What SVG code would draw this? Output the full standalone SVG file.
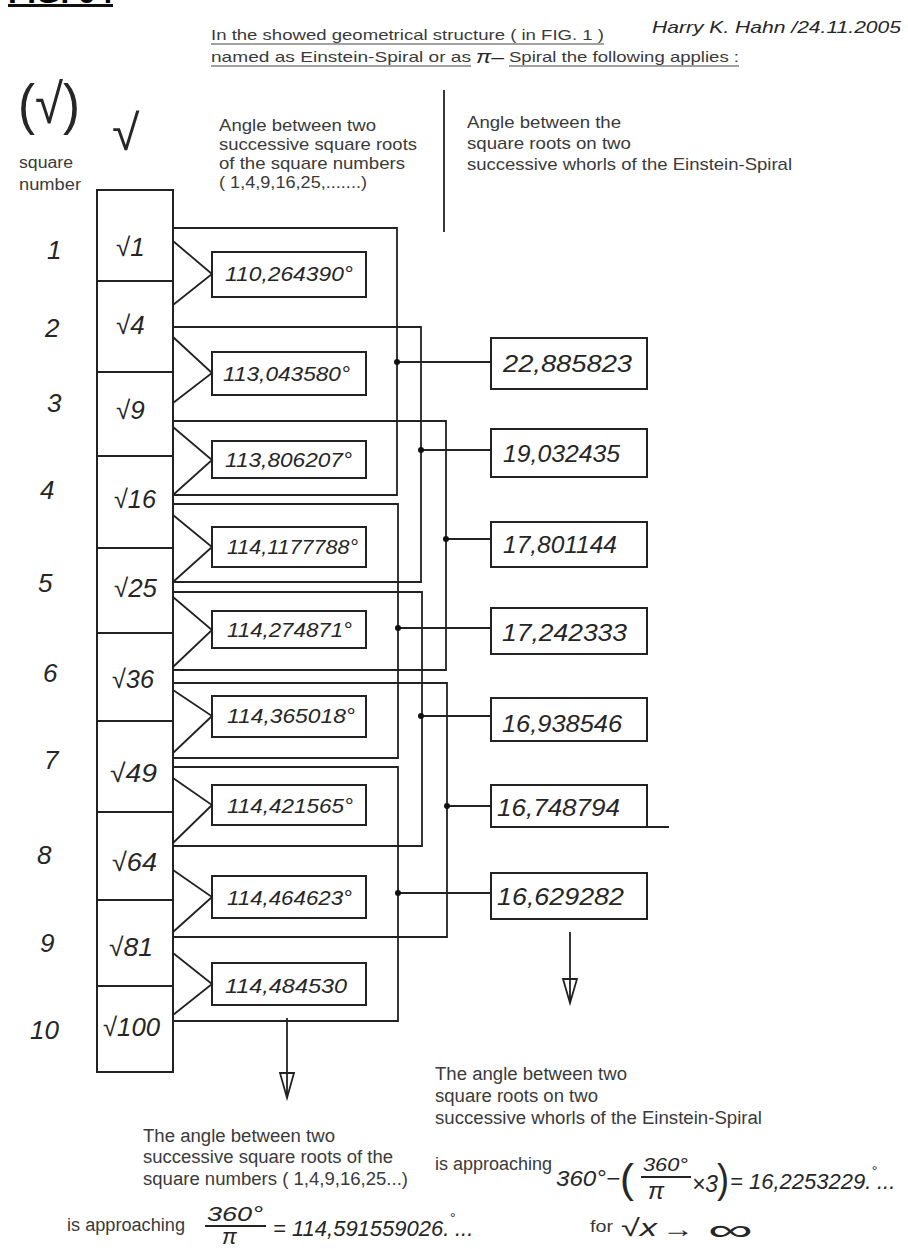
<svg xmlns="http://www.w3.org/2000/svg" width="908" height="1249" viewBox="0 0 908 1249">
<style>
.pr{font-family:"Liberation Sans",Arial,sans-serif;fill:#3a3a3a}
.hw{font-family:"Liberation Sans",Arial,sans-serif;font-style:italic;fill:#262626}
.ln{stroke:#222;stroke-width:1.8;fill:none}
.bx{stroke:#222;stroke-width:2;fill:none}
.ul{stroke:#444;stroke-width:1.2}
.dot{fill:#111}
</style>
<rect width="908" height="1249" fill="#fff"/>

<g id="title">
<text x="8" y="3" style="font-family:'Liberation Sans',Arial,sans-serif;font-weight:bold;font-size:30px" textLength="105" lengthAdjust="spacingAndGlyphs">FIG. 04</text>
<rect x="8" y="4" width="105" height="3" fill="#111"/>
</g>

<g id="header">
<text class="pr" x="211" y="40" font-size="15" textLength="393" lengthAdjust="spacingAndGlyphs">In the showed geometrical structure ( in FIG. 1 )</text>
<line class="ul" x1="211" y1="44" x2="604" y2="44"/>
<text class="pr" x="211" y="62" font-size="15" textLength="260" lengthAdjust="spacingAndGlyphs">named as Einstein-Spiral or as</text>
<line class="ul" x1="211" y1="66" x2="471" y2="66"/>
<text class="hw" x="476" y="63" font-size="19" textLength="28" lengthAdjust="spacingAndGlyphs">π–</text>
<text class="pr" x="509" y="62" font-size="15" textLength="230" lengthAdjust="spacingAndGlyphs">Spiral the following applies :</text>
<line class="ul" x1="509" y1="66" x2="739" y2="66"/>
<text class="hw" x="652" y="33" font-size="17" textLength="249" lengthAdjust="spacingAndGlyphs">Harry K. Hahn /24.11.2005</text>
</g>

<g id="col-headers">
<text class="hw" x="18" y="123" font-size="56" style="font-style:normal" textLength="62" lengthAdjust="spacingAndGlyphs">(√)</text>
<text class="hw" x="112" y="150" font-size="50" style="font-style:normal">√</text>
<text class="pr" x="19" y="168" font-size="16" textLength="54" lengthAdjust="spacingAndGlyphs">square</text>
<text class="pr" x="19" y="190" font-size="16" textLength="62" lengthAdjust="spacingAndGlyphs">number</text>
<text class="pr" x="219" y="131" font-size="17" textLength="157" lengthAdjust="spacingAndGlyphs">Angle between two</text>
<text class="pr" x="219" y="150" font-size="17" textLength="198" lengthAdjust="spacingAndGlyphs">successive square roots</text>
<text class="pr" x="219" y="169" font-size="17" textLength="186" lengthAdjust="spacingAndGlyphs">of the square numbers</text>
<text class="pr" x="219" y="188" font-size="17" textLength="148" lengthAdjust="spacingAndGlyphs">( 1,4,9,16,25,.......)</text>
<line class="ln" x1="444" y1="90" x2="444" y2="232"/>
<text class="pr" x="467" y="128" font-size="17" textLength="154" lengthAdjust="spacingAndGlyphs">Angle between the</text>
<text class="pr" x="467" y="149" font-size="17" textLength="164" lengthAdjust="spacingAndGlyphs">square roots on two</text>
<text class="pr" x="467" y="170" font-size="17" textLength="325" lengthAdjust="spacingAndGlyphs">successive whorls of the Einstein-Spiral</text>
</g>

<g id="row-numbers" class="hw" font-size="26">
<text x="47" y="259">1</text>
<text x="45" y="337">2</text>
<text x="47" y="412">3</text>
<text x="40" y="499">4</text>
<text x="38" y="592">5</text>
<text x="43" y="682">6</text>
<text x="44" y="769">7</text>
<text x="37" y="864">8</text>
<text x="40" y="952">9</text>
<text x="30" y="1039">10</text>
</g>

<g id="root-column">
<rect class="bx" x="97" y="190" width="76" height="882"/>
<path class="ln" d="M97 281H173M97 372H173M97 456H173M97 548H173M97 633H173M97 721H173M97 812H173M97 900H173M97 986H173"/>
<g class="hw" font-size="26">
<text x="116" y="256">√1</text>
<text x="116" y="334">√4</text>
<text x="116" y="419">√9</text>
<text x="114" y="508" textLength="42" lengthAdjust="spacingAndGlyphs">√16</text>
<text x="114" y="597" textLength="43" lengthAdjust="spacingAndGlyphs">√25</text>
<text x="112" y="688" textLength="42" lengthAdjust="spacingAndGlyphs">√36</text>
<text x="110" y="782" textLength="47" lengthAdjust="spacingAndGlyphs">√49</text>
<text x="112" y="871" textLength="45" lengthAdjust="spacingAndGlyphs">√64</text>
<text x="109" y="956" textLength="44" lengthAdjust="spacingAndGlyphs">√81</text>
<text x="103" y="1036" textLength="57" lengthAdjust="spacingAndGlyphs">√100</text>
</g>
</g>

<g id="angle-boxes">
<g id="a1"><rect class="bx" x="212" y="252" width="154" height="45"/><text class="hw" x="225" y="281" font-size="21" textLength="128" lengthAdjust="spacingAndGlyphs">110,264390°</text></g>
<g id="a2"><rect class="bx" x="212" y="352" width="154" height="43"/><text class="hw" x="223" y="381" font-size="21" textLength="127" lengthAdjust="spacingAndGlyphs">113,043580°</text></g>
<g id="a3"><rect class="bx" x="212" y="441" width="154" height="37"/><text class="hw" x="225" y="467" font-size="21" textLength="127" lengthAdjust="spacingAndGlyphs">113,806207°</text></g>
<g id="a4"><rect class="bx" x="212" y="527" width="154" height="40"/><text class="hw" x="227" y="554" font-size="21" textLength="131" lengthAdjust="spacingAndGlyphs">114,1177788°</text></g>
<g id="a5"><rect class="bx" x="212" y="611" width="154" height="37"/><text class="hw" x="227" y="637" font-size="21" textLength="125" lengthAdjust="spacingAndGlyphs">114,274871°</text></g>
<g id="a6"><rect class="bx" x="212" y="696" width="154" height="41"/><text class="hw" x="227" y="723" font-size="21" textLength="128" lengthAdjust="spacingAndGlyphs">114,365018°</text></g>
<g id="a7"><rect class="bx" x="212" y="785" width="154" height="40"/><text class="hw" x="227" y="813" font-size="21" textLength="126" lengthAdjust="spacingAndGlyphs">114,421565°</text></g>
<g id="a8"><rect class="bx" x="212" y="876" width="154" height="42"/><text class="hw" x="227" y="905" font-size="21" textLength="125" lengthAdjust="spacingAndGlyphs">114,464623°</text></g>
<g id="a9"><rect class="bx" x="212" y="963" width="154" height="42"/><text class="hw" x="225" y="993" font-size="21" textLength="122" lengthAdjust="spacingAndGlyphs">114,484530</text></g>
</g>

<g id="whorl-boxes">
<g id="w1"><rect class="bx" x="491" y="338" width="156" height="51"/><text class="hw" x="503" y="372" font-size="24" textLength="129" lengthAdjust="spacingAndGlyphs">22,885823</text></g>
<g id="w2"><rect class="bx" x="491" y="429" width="156" height="48"/><text class="hw" x="503" y="462" font-size="24" textLength="117" lengthAdjust="spacingAndGlyphs">19,032435</text></g>
<g id="w3"><rect class="bx" x="491" y="522" width="156" height="45"/><text class="hw" x="503" y="553" font-size="24" textLength="114" lengthAdjust="spacingAndGlyphs">17,801144</text></g>
<g id="w4"><rect class="bx" x="491" y="608" width="156" height="46"/><text class="hw" x="502" y="641" font-size="24" textLength="125" lengthAdjust="spacingAndGlyphs">17,242333</text></g>
<g id="w5"><rect class="bx" x="491" y="698" width="156" height="43"/><text class="hw" x="502" y="732" font-size="24" textLength="120" lengthAdjust="spacingAndGlyphs">16,938546</text></g>
<g id="w6"><rect class="bx" x="491" y="785" width="156" height="42"/><text class="hw" x="497" y="816" font-size="24" textLength="123" lengthAdjust="spacingAndGlyphs">16,748794</text></g>
<g id="w7"><rect class="bx" x="491" y="873" width="156" height="46"/><text class="hw" x="497" y="905" font-size="24" textLength="127" lengthAdjust="spacingAndGlyphs">16,629282</text></g>
</g>

<g id="connectors">
<path class="ln" d="M173 241L212 274L173 305M173 337L212 373L173 403M173 427L212 460L173 495M173 515L212 547L173 582M173 597L212 630L173 667M173 690L212 716L173 753M173 778L212 805L173 843M173 870L212 897L173 932M173 953L212 984L173 1015"/>
<polyline class="ln" points="173,228 397,228 397,495 173,495"/>
<polyline class="ln" points="173,327 421,327 421,582 173,582"/>
<polyline class="ln" points="173,421 446,421 446,670 173,670"/>
<polyline class="ln" points="173,504 398,504 398,758 173,758"/>
<polyline class="ln" points="173,592 422,592 422,846 173,846"/>
<polyline class="ln" points="173,683 447,683 447,937 173,937"/>
<polyline class="ln" points="173,767 398,767 398,1021 173,1021"/>
<path class="ln" d="M397 362H491M421 450H491M446 539H491M398 628H491M421 716H491M447 806H491M398 893H491M647 827H669"/>
<g class="dot">
<circle cx="397" cy="362" r="3"/><circle cx="421" cy="450" r="3"/><circle cx="446" cy="539" r="3"/><circle cx="398" cy="628" r="3"/><circle cx="421" cy="716" r="3"/><circle cx="447" cy="806" r="3"/><circle cx="398" cy="893" r="3"/>
</g>
<path class="ln" d="M287 1018V1098M280 1073H294L287 1098Z"/>
<path class="ln" d="M570 932V1003M563 979H577L570 1003Z"/>
</g>

<g id="note-left">
<text class="pr" x="143" y="1142" font-size="18" textLength="192" lengthAdjust="spacingAndGlyphs">The angle between two</text>
<text class="pr" x="143" y="1163" font-size="18" textLength="250" lengthAdjust="spacingAndGlyphs">successive square roots of the</text>
<text class="pr" x="143" y="1185" font-size="18" textLength="265" lengthAdjust="spacingAndGlyphs">square numbers ( 1,4,9,16,25...)</text>
<text class="pr" x="67" y="1231" font-size="18" textLength="118" lengthAdjust="spacingAndGlyphs">is approaching</text>
<text class="hw" x="207" y="1221" font-size="21" textLength="56" lengthAdjust="spacingAndGlyphs">360°</text>
<line class="ln" x1="205" y1="1226" x2="266" y2="1226"/>
<text class="hw" x="222" y="1244" font-size="22">π</text>
<text class="hw" x="273" y="1236" font-size="22">= 114,591559026.<tspan dy="-13" font-size="14">°</tspan><tspan dy="13">...</tspan></text>
</g>

<g id="note-right">
<text class="pr" x="435" y="1080" font-size="18" textLength="192" lengthAdjust="spacingAndGlyphs">The angle between two</text>
<text class="pr" x="435" y="1102" font-size="18" textLength="163" lengthAdjust="spacingAndGlyphs">square roots on two</text>
<text class="pr" x="435" y="1124" font-size="18" textLength="327" lengthAdjust="spacingAndGlyphs">successive whorls of the Einstein-Spiral</text>
<text class="pr" x="435" y="1170" font-size="18" textLength="117" lengthAdjust="spacingAndGlyphs">is approaching</text>
<text class="hw" x="556" y="1186" font-size="22" textLength="64" lengthAdjust="spacingAndGlyphs">360°−</text>
<text class="hw" x="620" y="1193" font-size="40" style="font-style:normal" textLength="14" lengthAdjust="spacingAndGlyphs">(</text>
<text class="hw" x="643" y="1171" font-size="18" textLength="45" lengthAdjust="spacingAndGlyphs">360°</text>
<line class="ln" x1="641" y1="1177" x2="691" y2="1177"/>
<text class="hw" x="648" y="1199" font-size="24">π</text>
<text class="hw" x="692" y="1192" font-size="24" textLength="26" lengthAdjust="spacingAndGlyphs">×3</text>
<text class="hw" x="717" y="1193" font-size="40" style="font-style:normal" textLength="12" lengthAdjust="spacingAndGlyphs">)</text>
<text class="hw" x="730" y="1189" font-size="22">= 16,2253229.<tspan dy="-13" font-size="14">°</tspan><tspan dy="13">...</tspan></text>
<text class="pr" x="590" y="1232" font-size="16" textLength="23" lengthAdjust="spacingAndGlyphs">for</text>
<text class="hw" x="621" y="1236" font-size="24" textLength="36" lengthAdjust="spacingAndGlyphs">√x</text>
<text class="hw" x="662" y="1237" font-size="24" style="font-style:normal" textLength="32" lengthAdjust="spacingAndGlyphs">→</text>
<text class="hw" x="708" y="1240" font-size="30" style="font-style:normal" textLength="45" lengthAdjust="spacingAndGlyphs">∞</text>
</g>
</svg>
